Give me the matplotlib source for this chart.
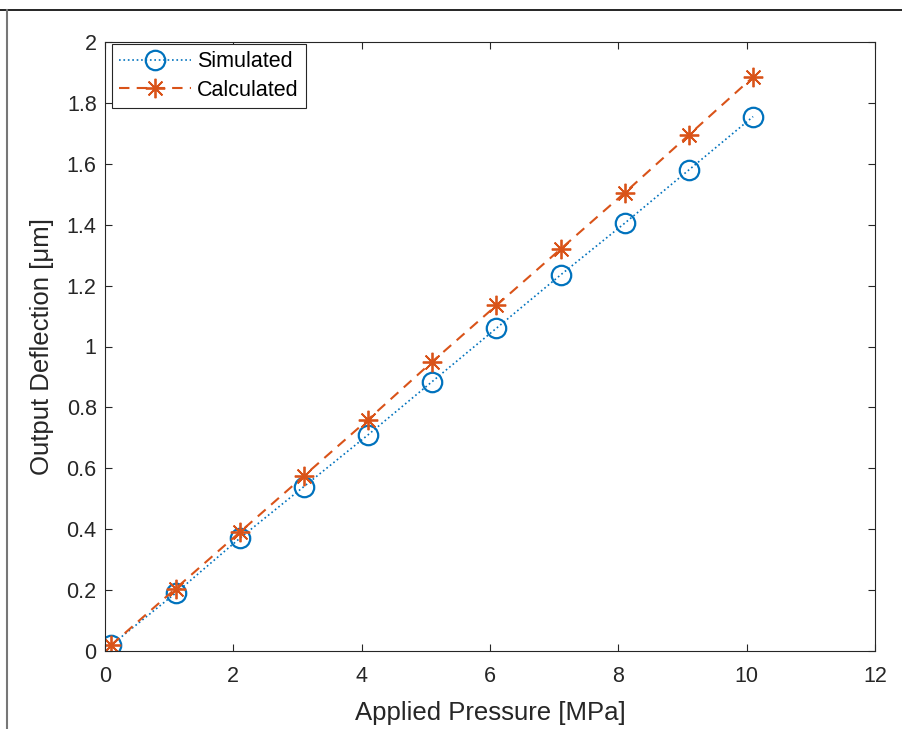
import matplotlib.pyplot as plt
from matplotlib.lines import Line2D

plt.rcParams["font.family"] = ["Liberation Sans", "DejaVu Sans"]

pressure = [0.1, 1.1, 2.1, 3.1, 4.1, 5.1, 6.1, 7.1, 8.1, 9.1, 10.1]
simulated = [0.02, 0.19, 0.37, 0.54, 0.71, 0.885, 1.06, 1.235, 1.405, 1.58, 1.755]
calculated = [0.02, 0.205, 0.39, 0.575, 0.76, 0.95, 1.135, 1.32, 1.505, 1.695, 1.885]

xticks = [0, 2, 4, 6, 8, 10, 12]
yticks = [0, 0.2, 0.4, 0.6, 0.8, 1, 1.2, 1.4, 1.6, 1.8, 2]
ytick_labels = ["0", "0.2", "0.4", "0.6", "0.8", "1", "1.2", "1.4", "1.6", "1.8", "2"]

blue = "#0072BD"
orange = "#D95319"


def main():
    fig = plt.figure(figsize=(9.03, 7.29), dpi=100)
    ax = fig.add_axes([105 / 903, 1 - 651 / 729, 770 / 903, 609 / 729])

    ax.plot(pressure, simulated, linestyle=":", color=blue, marker="o",
            markersize=14, markerfacecolor="none", markeredgewidth=1.6,
            linewidth=1.2, label="Simulated")
    ax.plot(pressure, calculated, linestyle=(0, (5, 3.5)), color=orange,
            marker=(8, 2, 0), markersize=14, markeredgewidth=1.3,
            linewidth=1.5, label="Calculated")

    ax.set_xlim(0, 12)
    ax.set_ylim(0, 2)
    ax.set_xticks(xticks)
    ax.set_yticks(yticks)
    ax.set_yticklabels(ytick_labels)
    ax.tick_params(direction="in", length=5, width=0.8, colors="#262626",
                   labelsize=15.5, top=True, right=True,
                   labeltop=False, labelright=False)
    ax.tick_params(axis="x", pad=11)
    ax.tick_params(axis="y", pad=6)
    for spine in ax.spines.values():
        spine.set_color("#262626")
        spine.set_linewidth(0.8)

    ax.set_xlabel("Applied Pressure [MPa]", fontsize=18.5, color="#262626", labelpad=10)
    ax.set_ylabel("Output Deflection [\u03bcm]", fontsize=18.5, color="#262626", labelpad=9)

    leg = ax.legend(loc="upper left", bbox_to_anchor=(0.009, 0.997), fontsize=15.5,
                    frameon=True, fancybox=False, framealpha=1, edgecolor="#262626",
                    handlelength=3.3, borderpad=0.35, labelspacing=0.35,
                    handletextpad=0.3, borderaxespad=0)
    leg.get_frame().set_linewidth(0.8)

    # screenshot border
    fig.add_artist(Line2D([0, 1], [1 - 10 / 729, 1 - 10 / 729], color="black",
                          linewidth=1.2, transform=fig.transFigure))
    fig.add_artist(Line2D([7 / 903, 7 / 903], [0, 1 - 10 / 729], color="#777777",
                          linewidth=1.5, transform=fig.transFigure))

    plt.savefig("out.png", dpi=100)


if __name__ == "__main__":
    main()
